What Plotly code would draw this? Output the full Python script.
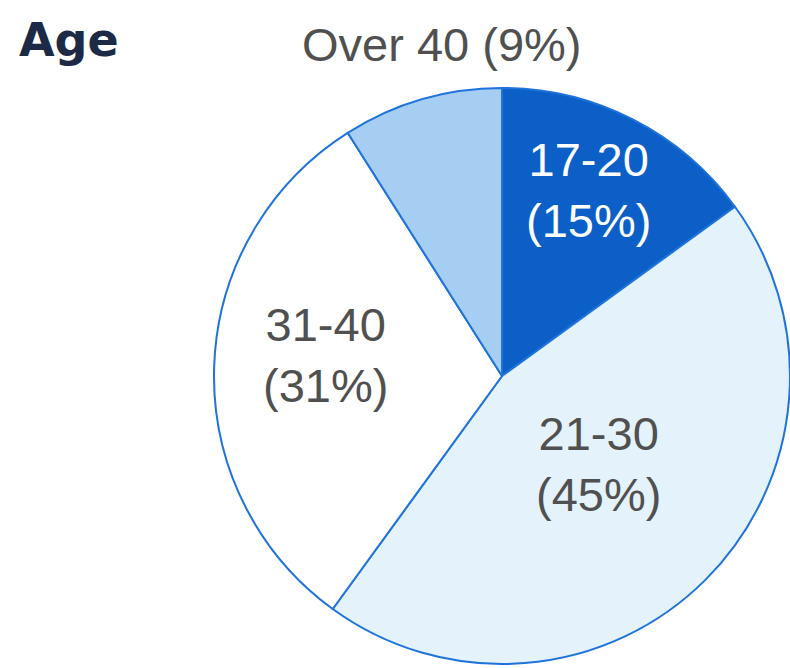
import plotly.graph_objects as go

# Data
categories = ["17-20", "21-30", "31-40", "Over 40"]
shares = [15, 45, 31, 9]
slice_colors = ["#0b5fc6", "#e4f2fb", "#ffffff", "#a6cdf2"]

W, H = 790, 668

fig = go.Figure(go.Pie(
    labels=categories,
    values=shares,
    sort=False,
    direction="clockwise",
    rotation=0,
    textinfo="none",
    hoverinfo="label+percent",
    marker=dict(colors=slice_colors, line=dict(color="#1e73dd", width=2)),
    domain=dict(x=[214 / W, 790 / W], y=[1 - 664 / H, 1 - 88 / H]),
    showlegend=False,
))

# label placement (pixel centres) per category
label_pos = {
    "17-20": (588, 190, "#ffffff", "two"),
    "21-30": (598, 464, "#505050", "two"),
    "31-40": (325, 355, "#505050", "two"),
    "Over 40": (441, 45, "#505050", "one"),
}

annotations = []
for cat, val in zip(categories, shares):
    px, py, col, mode = label_pos[cat]
    txt = f"{cat}<br>({val}%)" if mode == "two" else f"{cat} ({val}%)"
    annotations.append(dict(
        text=txt, x=px / W, y=1 - py / H, xref="paper", yref="paper",
        xanchor="center", yanchor="middle", showarrow=False, align="center",
        font=dict(family="Liberation Sans, Arial, sans-serif", size=47, color=col),
    ))

annotations.append(dict(
    text="<b>Age</b>", x=17 / W, y=1 - 40 / H, xref="paper", yref="paper",
    xanchor="left", yanchor="middle", showarrow=False,
    font=dict(family="DejaVu Sans, sans-serif", size=46, color="#1c2a45"),
))

fig.update_layout(
    width=W, height=H,
    margin=dict(l=0, r=0, t=0, b=0),
    paper_bgcolor="#ffffff",
    plot_bgcolor="#ffffff",
    annotations=annotations,
)

fig.write_html("out.html")
